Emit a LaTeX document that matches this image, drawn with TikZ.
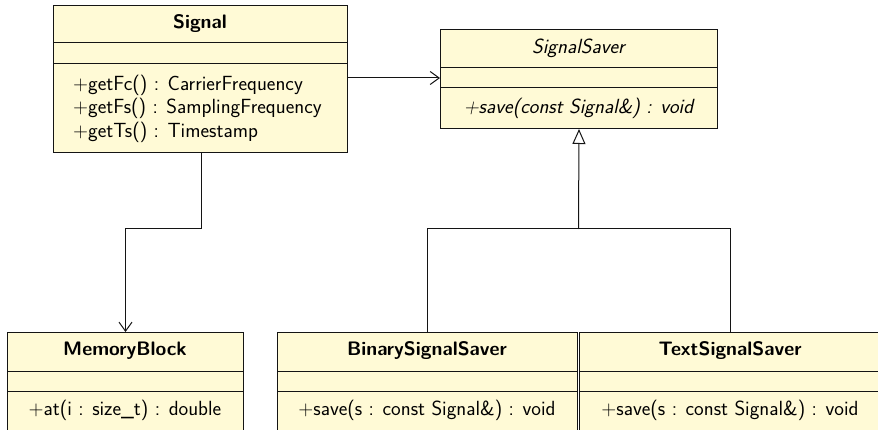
\documentclass[tikz,border=0pt]{standalone}
\usetikzlibrary{arrows.meta}
\definecolor{classfill}{RGB}{255,250,214}
\definecolor{edge}{RGB}{20,20,20}
\begin{document}
\begin{tikzpicture}[x=1pt,y=-1pt,
  classbox/.style={draw=edge,fill=classfill,line width=1pt,inner sep=0pt,anchor=north west,rectangle},
  divider/.style={draw=edge,line width=1pt},
  ctitle/.style={font=\sffamily\bfseries\fontsize{19.5}{22}\selectfont,inner sep=0pt},
  ititle/.style={font=\sffamily\itshape\fontsize{20.5}{22}\selectfont,inner sep=0pt},
  member/.style={font=\sffamily\fontsize{20.5}{23.5}\selectfont,inner sep=0pt},
  imember/.style={font=\sffamily\itshape\fontsize{20.5}{23.5}\selectfont,inner sep=0pt},
  assoc/.style={draw=edge,line width=1pt,-{Straight Barb[length=9pt,width=13pt,line width=1pt]}},
  inherit/.style={draw=edge,line width=1pt,-{Triangle[open,length=15pt,width=13pt,line width=1pt,fill=white]}}
]
\useasboundingbox (0,0) rectangle (878,430);
% Signal
\node[classbox,minimum width=294pt,minimum height=147pt] (sig) at (53,5) {};
\draw[divider] (53,43) -- (347,43);
\draw[divider] (53,64) -- (347,64);
\node[ctitle] (sigT) at (200,24) {Signal};
\node[member,anchor=west,align=left] (sigM) at (73,108.5) {+getFc() : CarrierFrequency\\+getFs() : SamplingFrequency\\+getTs() : Timestamp};
% SignalSaver
\node[classbox,minimum width=277pt,minimum height=99pt] (sav) at (440,29) {};
\draw[divider] (440,68) -- (717,68);
\draw[divider] (440,88) -- (717,88);
\node[ititle] (savT) at (578.5,48) {SignalSaver};
\node[imember] (savM) at (578.5,108) {+save(const Signal\&) : void};
% MemoryBlock
\node[classbox,minimum width=236pt,minimum height=100pt] (mem) at (7,332) {};
\draw[divider] (7,371) -- (243,371);
\draw[divider] (7,391) -- (243,391);
\node[ctitle] (memT) at (125,351) {MemoryBlock};
\node[member] (memM) at (125,410) {+at(i : size\_t) : double};
% BinarySignalSaver
\node[classbox,minimum width=300pt,minimum height=100pt] (bin) at (277,332) {};
\draw[divider] (277,371) -- (577,371);
\draw[divider] (277,391) -- (577,391);
\node[ctitle] (binT) at (427,351) {BinarySignalSaver};
\node[member] (binM) at (427,410) {+save(s : const Signal\&) : void};
% TextSignalSaver
\node[classbox,minimum width=302pt,minimum height=100pt] (txt) at (579,332) {};
\draw[divider] (579,371) -- (881,371);
\draw[divider] (579,391) -- (881,391);
\node[ctitle] (txtT) at (730,351) {TextSignalSaver};
\node[member] (txtM) at (730,410) {+save(s : const Signal\&) : void};
% connectors
\coordinate (j) at (578.5,229);
\coordinate (k) at (201,229);
\coordinate (sigR) at (347,78);
\draw[assoc] (sigR) -- (sigR -| sav.west);
\draw[assoc] (sig.south -| k) -- (k) -| (mem.north);
\draw[divider] (bin.north) |- (j);
\draw[divider] (txt.north -| 730,0) |- (j);
\draw[inherit] (j) -- (sav.south);
\end{tikzpicture}
\end{document}
